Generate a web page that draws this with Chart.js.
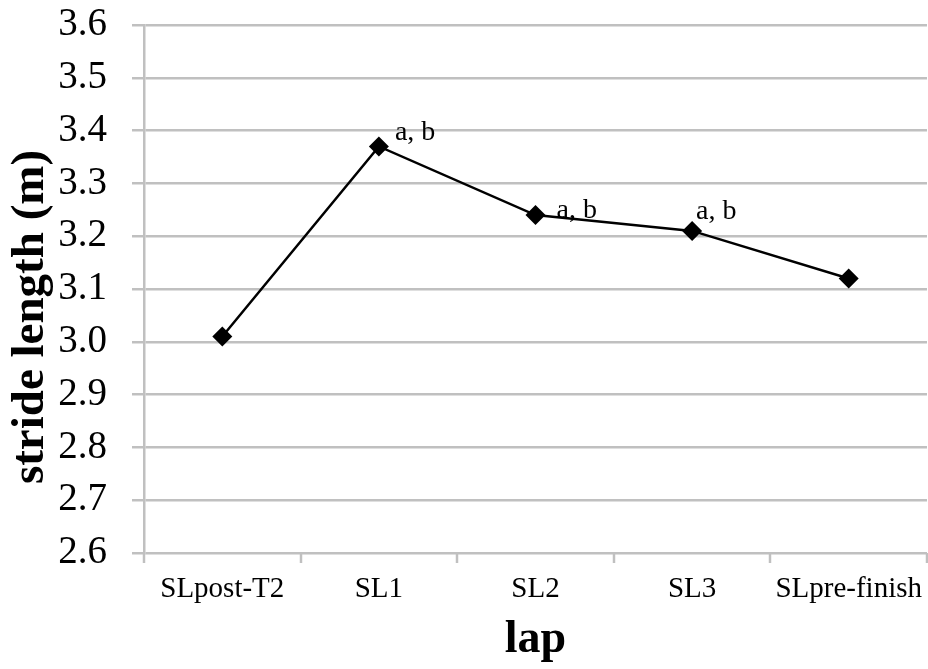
<!DOCTYPE html>
<html>
<head>
<meta charset="utf-8">
<script src="https://cdn.jsdelivr.net/npm/chart.js@4.4.1/dist/chart.umd.min.js"></script>
<style>
  html, body { margin: 0; padding: 0; background: #fff; }
  #wrap { width: 928px; height: 669px; position: relative; }
</style>
</head>
<body>
<div id="wrap"><canvas id="myChart"></canvas></div>
<script>
const categories = ['SLpost-T2', 'SL1', 'SL2', 'SL3', 'SLpre-finish'];
const strideLength = [3.01, 3.37, 3.24, 3.21, 3.12];
const significance = ['', 'a, b', 'a, b', 'a, b', ''];
const yTicks = [2.6, 2.7, 2.8, 2.9, 3.0, 3.1, 3.2, 3.3, 3.4, 3.5, 3.6];
const yTitle = 'stride length (m)';
const xTitle = 'lap';

const serif = '"Liberation Serif", "Times New Roman", serif';
Chart.defaults.font.family = serif;
Chart.defaults.color = '#000';

// little nudges for the "a, b" notes, per point (dx, dy from the marker)
const noteOffsets = [[0, 0], [16, -6], [21, 3], [4, -12], [0, 0]];

const notesPlugin = {
    id: 'notes',
    afterDatasetsDraw(chart) {
        const ctx = chart.ctx;
        const pts = chart.getDatasetMeta(0).data;
        ctx.save();
        ctx.font = '28px ' + serif;
        ctx.fillStyle = '#000';
        ctx.textAlign = 'left';
        ctx.textBaseline = 'alphabetic';
        significance.forEach((txt, i) => {
            if (!txt) return;
            ctx.fillText(txt, pts[i].x + noteOffsets[i][0], pts[i].y + noteOffsets[i][1]);
        });
        ctx.restore();
    }
};

// y title drawn by hand so it can sit a bit lower, like the original
const sideTitle = {
    id: 'sideTitle',
    afterDraw(chart) {
        const ctx = chart.ctx;
        ctx.save();
        ctx.translate(43, 317);
        ctx.rotate(-Math.PI / 2);
        ctx.font = 'bold 47px ' + serif;
        ctx.fillStyle = '#000';
        ctx.textAlign = 'center';
        ctx.textBaseline = 'alphabetic';
        ctx.fillText(yTitle, 0, 0);
        ctx.restore();
    }
};

const ctx = document.getElementById('myChart').getContext('2d');
const myChart = new Chart(ctx, {
    type: 'line',
    data: {
        labels: categories,
        datasets: [{
            label: yTitle,
            data: strideLength,
            borderColor: '#000',
            backgroundColor: '#000',
            borderWidth: 2.5,
            pointStyle: 'rectRot',
            pointRadius: 10,
            pointHoverRadius: 10,
            pointBackgroundColor: '#000',
            pointBorderWidth: 0,
            tension: 0,
            fill: false
        }]
    },
    options: {
        responsive: true,
        maintainAspectRatio: false,
        animation: false,
        layout: { autoPadding: false, padding: { top: 25, right: 1, left: 0, bottom: 0 } },
        plugins: {
            legend: { display: false },
            tooltip: { enabled: false }
        },
        scales: {
            x: {
                offset: true,
                afterFit(scale) {
                    scale.height = 116;
                    scale.paddingLeft = 0;
                    scale.paddingRight = 0;
                },
                grid: {
                    offset: true,
                    drawOnChartArea: true,
                    color: c => (c.index === categories.length ? '#d0d0d0' : 'transparent'),
                    lineWidth: 2,
                    tickColor: '#c0c0c0',
                    tickLength: 10,
                    tickWidth: 2.5
                },
                border: { display: false },
                ticks: {
                    font: { size: 29, lineHeight: 1.8 },
                    padding: 0,
                    maxRotation: 0,
                    autoSkip: false
                },
                title: {
                    display: true,
                    text: xTitle,
                    font: { size: 46, weight: 'bold', lineHeight: 1.2 },
                    padding: { top: 0, bottom: 1 }
                }
            },
            y: {
                min: 2.6,
                max: 3.6,
                afterFit(scale) {
                    scale.width = 144;
                    scale.paddingTop = 0;
                    scale.paddingBottom = 0;
                },
                afterBuildTicks(scale) { scale.ticks = yTicks.map(v => ({ value: v })); },
                grid: {
                    color: '#c0c0c0',
                    lineWidth: 2.5,
                    tickLength: 12
                },
                border: { display: true, color: '#c0c0c0', width: 2.5 },
                ticks: {
                    font: { size: 39 },
                    padding: 25,
                    callback: v => Number(v).toFixed(1)
                }
            }
        }
    },
    plugins: [notesPlugin, sideTitle]
});
</script>
</body>
</html>
